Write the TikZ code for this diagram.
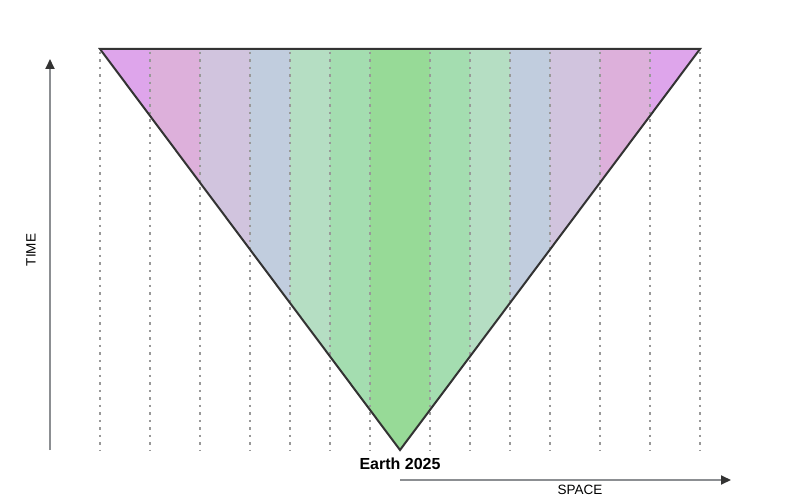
\documentclass[tikz,border=0pt]{standalone}
\usepackage{fontspec}
\setmainfont{Liberation Sans}
\usetikzlibrary{arrows.meta}
\definecolor{cA}{HTML}{DEA5EB}
\definecolor{cB}{HTML}{DDB0DB}
\definecolor{cC}{HTML}{D1C4DE}
\definecolor{cD}{HTML}{C1CDDE}
\definecolor{cE}{HTML}{B5DEC3}
\definecolor{cF}{HTML}{A4DDB0}
\definecolor{cG}{HTML}{97DA97}
\definecolor{edge}{HTML}{333333}
\definecolor{axisgray}{HTML}{8C8F92}
\definecolor{dotgray}{HTML}{999999}
\tikzset{
  band/.style={draw=none},
  guide/.style={draw=dotgray, line width=1.5pt, dash pattern=on 2.5pt off 5pt},
  axisline/.style={draw=axisgray, line width=1.8pt, -{Triangle[length=10pt,width=9pt,color=edge]}},
  rim/.style={draw=edge, line width=2pt, line join=miter},
  lbl/.style={font=\fontsize{13.5}{16}\selectfont, text=black, inner sep=0pt}
}
\begin{document}
\begin{tikzpicture}[x=1pt,y=-1pt]
\useasboundingbox (0,0) rectangle (800,500);
\coordinate (tl) at (100,49);
\coordinate (tr) at (700,49);
\coordinate (apex) at (400,450);
\begin{scope}
\clip (tl) -- (tr) -- (apex) -- cycle;
\fill[cA] (100,40) rectangle (150,460);
\fill[cB] (150,40) rectangle (200,460);
\fill[cC] (200,40) rectangle (250,460);
\fill[cD] (250,40) rectangle (290,460);
\fill[cE] (290,40) rectangle (330,460);
\fill[cF] (330,40) rectangle (370,460);
\fill[cG] (370,40) rectangle (430,460);
\fill[cF] (430,40) rectangle (470,460);
\fill[cE] (470,40) rectangle (510,460);
\fill[cD] (510,40) rectangle (550,460);
\fill[cC] (550,40) rectangle (600,460);
\fill[cB] (600,40) rectangle (650,460);
\fill[cA] (650,40) rectangle (700,460);
\end{scope}
\foreach \x in {100,150,200,250,290,330,370,430,470,510,550,600,650,700}
  \draw[guide] (\x,52) -- (\x,450);
\draw[rim] (tl) -- (tr) -- (apex) -- cycle;
\coordinate (t0) at (50,450);
\coordinate (t1) at (50,59);
\draw[axisline] (t0) -- (t1);
\coordinate (s0) at (400,480);
\coordinate (s1) at (731,480);
\draw[axisline] (s0) -- (s1);
\node[lbl, rotate=90] (time) at (31,250) {TIME};
\node[lbl] (space) at (580,490) {SPACE};
\node[lbl, font=\fontsize{16}{18}\selectfont\bfseries] (earth) at (400,464) {Earth 2025};
\end{tikzpicture}
\end{document}
